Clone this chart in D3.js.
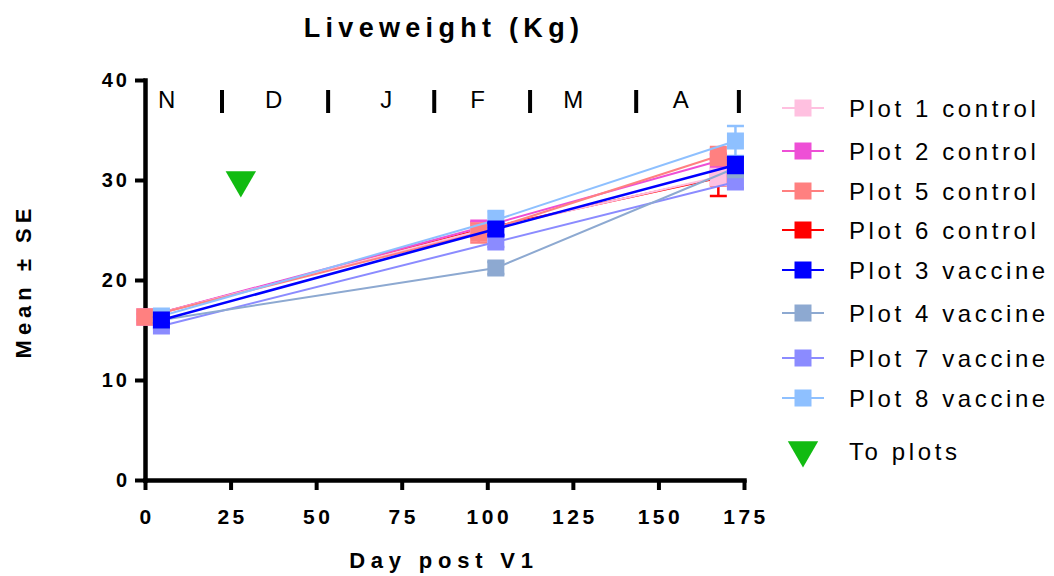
<!DOCTYPE html>
<html>
<head>
<meta charset="utf-8">
<script src="https://cdn.jsdelivr.net/npm/d3@7"></script>
<style>
  html, body { margin: 0; padding: 0; background: #fff; }
  svg { display: block; font-family: "Liberation Sans", Arial, sans-serif; }
</style>
</head>
<body>
<svg id="chart" width="1054" height="576"></svg>
<script>
// Sampling days (controls weighed slightly before vaccine groups)
const controlDays = [0, 97.5, 167.5];
const vaccineDays = [4.8, 102.5, 172.5];

// Mean liveweight (kg) per plot
const plot1Control = [16.3, 24.9, 30.3];
const plot2Control = [16.3, 25.2, 31.9];
const plot5Control = [16.3, 24.7, 32.4];
const plot6Control = [16.3, 25.0, 30.2];
const plot3Vaccine = [16.0, 25.1, 31.5];
const plot4Vaccine = [16.0, 21.2, 31.2];
const plot7Vaccine = [15.4, 23.8, 29.8];
const plot8Vaccine = [16.4, 26.0, 33.9];

// Standard errors
const plot1SE = [0.3, 0.5, 0.8];
const plot2SE = [0.3, 0.5, 0.7];
const plot5SE = [0.3, 0.95, 0.9];
const plot6SE = [0.3, 0.6, 1.8];
const plot3SE = [0.3, 0.6, 0.8];
const plot4SE = [0.3, 0.6, 0.9];
const plot7SE = [0.3, 0.5, 0.6];
const plot8SE = [0.3, 0.9, 1.5];

const legendNames = ["Plot 1 control", "Plot 2 control", "Plot 5 control", "Plot 6 control",
                     "Plot 3 vaccine", "Plot 4 vaccine", "Plot 7 vaccine", "Plot 8 vaccine"];
const legendColors = ["#ffc0e0", "#ee4fd6", "#ff8080", "#ff0000",
                      "#0000ff", "#8da9d1", "#8b8bff", "#8ec0ff"];

// Month boundaries and month initials along the top
const monthBoundaryDays = [22.5, 53.5, 84.5, 112.5, 143.5, 173.5];
const monthLabels = ["N", "D", "J", "F", "M", "A"];
const monthLabelDays = [6.3, 37.6, 70.5, 97.2, 125.1, 156.5];

// Day the animals went to the plots
const toPlotsDay = [28];
const toPlotsValue = [30];

const xTicks = [0, 25, 50, 75, 100, 125, 150, 175];
const yTicks = [0, 10, 20, 30, 40];

const series = [
  { name: "Plot 1 control", days: controlDays, values: plot1Control, se: plot1SE },
  { name: "Plot 2 control", days: controlDays, values: plot2Control, se: plot2SE },
  { name: "Plot 5 control", days: controlDays, values: plot5Control, se: plot5SE },
  { name: "Plot 6 control", days: controlDays, values: plot6Control, se: plot6SE },
  { name: "Plot 3 vaccine", days: vaccineDays, values: plot3Vaccine, se: plot3SE },
  { name: "Plot 4 vaccine", days: vaccineDays, values: plot4Vaccine, se: plot4SE },
  { name: "Plot 7 vaccine", days: vaccineDays, values: plot7Vaccine, se: plot7SE },
  { name: "Plot 8 vaccine", days: vaccineDays, values: plot8Vaccine, se: plot8SE }
];
series.forEach(s => { s.color = legendColors[legendNames.indexOf(s.name)]; });

// Paint order: later series sit on top
const drawOrder = ["Plot 6 control", "Plot 2 control", "Plot 1 control", "Plot 5 control",
                   "Plot 8 vaccine", "Plot 7 vaccine", "Plot 4 vaccine", "Plot 3 vaccine"];

const svg = d3.select("#chart");
const x = d3.scaleLinear().domain([0, 175]).range([145, 744]);
const y = d3.scaleLinear().domain([0, 40]).range([480, 80]);

const AXIS_W = 4.5;
const MARK = 17;

// Title
svg.append("text")
  .attr("x", 444).attr("y", 37)
  .attr("text-anchor", "middle")
  .attr("font-size", 27).attr("font-weight", "bold")
  .attr("letter-spacing", 5.3)
  .text("Liveweight (Kg)");

// Axes
const xAxis = svg.append("g")
  .attr("transform", `translate(0,${y(0)})`)
  .call(d3.axisBottom(x).tickValues(xTicks).tickSize(10).tickSizeOuter(0).tickPadding(19));
const yAxis = svg.append("g")
  .attr("transform", `translate(${x(0)},0)`)
  .call(d3.axisLeft(y).tickValues(yTicks).tickSize(10).tickSizeOuter(0).tickPadding(8));

[xAxis, yAxis].forEach(g => {
  g.select(".domain").attr("stroke", "#000").attr("stroke-width", AXIS_W).attr("stroke-linecap", "square");
  g.selectAll(".tick line").attr("stroke", "#000").attr("stroke-width", 4);
  g.selectAll(".tick text")
    .attr("fill", "#000")
    .attr("font-family", "Liberation Sans, Arial, sans-serif")
    .attr("font-weight", "bold");
});
xAxis.selectAll(".tick text").attr("font-size", 21).attr("letter-spacing", 3.5).attr("dx", 1.5);
yAxis.selectAll(".tick text").attr("font-size", 20).attr("letter-spacing", 3).attr("dx", 3);

// Axis titles
svg.append("text")
  .attr("x", 444).attr("y", 568)
  .attr("text-anchor", "middle")
  .attr("font-size", 22).attr("font-weight", "bold")
  .attr("letter-spacing", 5.8)
  .text("Day post V1");

svg.append("text")
  .attr("transform", "translate(31,281) rotate(-90)")
  .attr("text-anchor", "middle")
  .attr("font-size", 22).attr("font-weight", "bold")
  .attr("letter-spacing", 5)
  .text("Mean ± SE");

// Month strip
svg.append("g").selectAll("line")
  .data(monthBoundaryDays)
  .join("line")
  .attr("x1", d => x(d)).attr("x2", d => x(d))
  .attr("y1", 90).attr("y2", 113)
  .attr("stroke", "#000").attr("stroke-width", 4);

svg.append("g").selectAll("text")
  .data(monthLabels)
  .join("text")
  .attr("x", (d, i) => x(monthLabelDays[i]))
  .attr("y", 108)
  .attr("text-anchor", "middle")
  .attr("font-size", 24)
  .text(d => d);

// Data series
const line = d3.line().x(d => x(d.day)).y(d => y(d.value));
const plotLayer = svg.append("g");

drawOrder.forEach(name => {
  const s = series.find(v => v.name === name);
  const pts = s.days.map((d, i) => ({ day: d, value: s.values[i], se: s.se[i] }));
  const g = plotLayer.append("g");

  g.append("path")
    .datum(pts)
    .attr("d", line)
    .attr("fill", "none")
    .attr("stroke", s.color)
    .attr("stroke-width", name === "Plot 3 vaccine" ? 2.6 : 2);

  // error bars
  const eb = g.selectAll("g.err").data(pts).join("g").attr("class", "err");
  eb.append("line")
    .attr("x1", d => x(d.day)).attr("x2", d => x(d.day))
    .attr("y1", d => y(d.value - d.se)).attr("y2", d => y(d.value + d.se))
    .attr("stroke", s.color).attr("stroke-width", 2.5);
  [-1, 1].forEach(sign => {
    eb.append("line")
      .attr("x1", d => x(d.day) - MARK / 2).attr("x2", d => x(d.day) + MARK / 2)
      .attr("y1", d => y(d.value + sign * d.se)).attr("y2", d => y(d.value + sign * d.se))
      .attr("stroke", s.color).attr("stroke-width", 2.5);
  });

  // markers
  g.selectAll("rect").data(pts).join("rect")
    .attr("x", d => x(d.day) - MARK / 2)
    .attr("y", d => y(d.value) - MARK / 2)
    .attr("width", MARK).attr("height", MARK)
    .attr("fill", s.color);
});

// "To plots" marker
const tri = d3.symbol().type(d3.symbolTriangle).size(400);
svg.append("g").selectAll("path")
  .data(toPlotsDay)
  .join("path")
  .attr("d", tri)
  .attr("transform", (d, i) => `translate(${x(d)},${y(toPlotsValue[i])}) rotate(180)`)
  .attr("fill", "#11bb11");

// Legend
const legendRows = [108, 151, 191, 230, 270, 313, 358, 398];
const legend = svg.append("g");
legendNames.forEach((name, i) => {
  const row = legend.append("g").attr("transform", `translate(0,${legendRows[i]})`);
  row.append("line").attr("x1", 782).attr("x2", 824).attr("y1", 0).attr("y2", 0)
    .attr("stroke", legendColors[i]).attr("stroke-width", 2);
  row.append("rect").attr("x", 803 - MARK / 2).attr("y", -MARK / 2)
    .attr("width", MARK).attr("height", MARK).attr("fill", legendColors[i]);
  row.append("text").attr("x", 849).attr("y", 9)
    .attr("font-size", 24).attr("letter-spacing", 3.6)
    .text(name);
});
const triRow = legend.append("g").attr("transform", "translate(0,451)");
triRow.append("path").attr("d", tri).attr("transform", "translate(803,-1) rotate(180)").attr("fill", "#11bb11");
triRow.append("text").attr("x", 849).attr("y", 9)
  .attr("font-size", 24).attr("letter-spacing", 3.6)
  .text("To plots");
</script>
</body>
</html>
